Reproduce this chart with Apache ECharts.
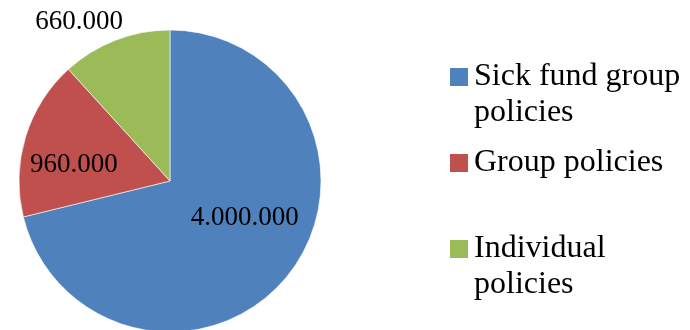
<!DOCTYPE html>
<html>
<head>
<meta charset="utf-8">
<script src="https://cdn.jsdelivr.net/npm/echarts@6/dist/echarts.min.js"></script>
<style>
html,body{margin:0;padding:0;background:#fff;}
#chart{width:690px;height:330px;}
</style>
</head>
<body>
<div id="chart"></div>
<script>
var categories = ['Sick fund group\npolicies', 'Group policies', 'Individual\npolicies'];
var values = [4000000, 960000, 660000];
var labelTexts = ['4.000.000', '960.000', '660.000'];
var colors = ['#4F81BD', '#C0504D', '#9BBB59'];
var labelShift = [[13, -11.5], [-21, 7], [-62.5, -86]];

var chart = echarts.init(document.getElementById('chart'), null, {renderer: 'canvas'});

var data = categories.map(function (c, i) {
  return {name: c, value: values[i], itemStyle: {color: colors[i]}};
});

chart.setOption({
  animation: false,
  backgroundColor: '#ffffff',
  legend: {
    orient: 'vertical',
    left: 448,
    top: 23,
    padding: 0,
    itemWidth: 20,
    itemHeight: 20,
    itemGap: 14,
    icon: 'rect',
    data: categories,
    formatter: function (name) {
      // keep icon level with the first line of two-line names
      return name.indexOf('\n') >= 0 ? '\n' + name : name;
    },
    textStyle: {
      fontFamily: 'Liberation Serif',
      fontSize: 32,
      lineHeight: 36,
      color: '#000'
    }
  },
  series: [{
    type: 'pie',
    center: [170, 181],
    radius: 151,
    startAngle: 90,
    clockwise: true,
    data: data,
    itemStyle: {borderColor: '#ffffff', borderWidth: 0.6},
    label: {
      show: true,
      position: 'inside',
      formatter: function (p) { return labelTexts[p.dataIndex]; },
      fontFamily: 'Liberation Serif',
      fontSize: 27,
      color: '#000'
    },
    labelLine: {show: false},
    labelLayout: function (p) {
      return {dx: labelShift[p.dataIndex][0], dy: labelShift[p.dataIndex][1]};
    },
    emphasis: {disabled: true}
  }]
});
</script>
</body>
</html>
